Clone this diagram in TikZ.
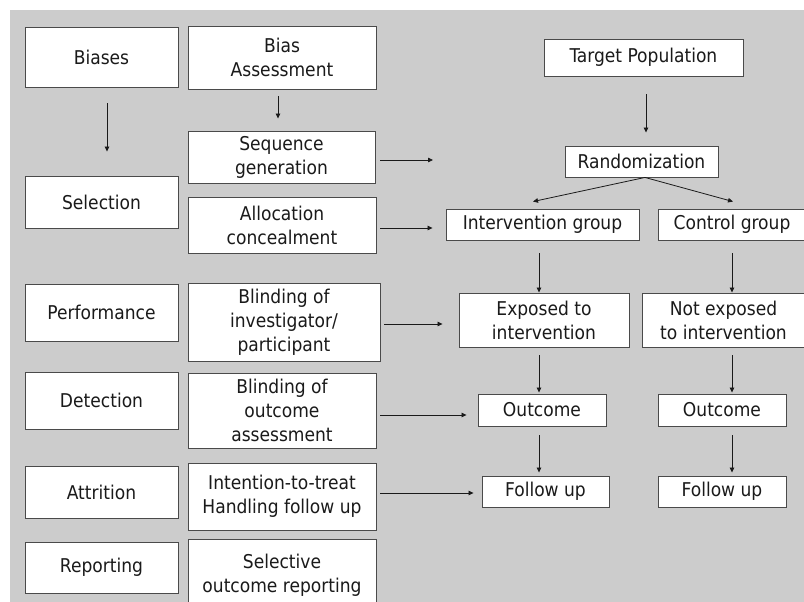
\documentclass[tikz,border=0pt]{standalone}
\usepackage{fontspec}
\setmainfont{DejaVu Sans Condensed}
\usetikzlibrary{arrows.meta}
\definecolor{bggray}{HTML}{CCCCCC}
\definecolor{edge}{HTML}{4A4A4A}
\definecolor{ink}{HTML}{1A1A1A}
\tikzset{
  box/.style={draw=edge, line width=0.9pt, fill=white, inner sep=0pt, align=center,
    text=ink, font=\fontsize{19}{24}\selectfont},
  arr/.style={draw=ink, line width=0.8pt, -{Triangle[length=5pt,width=4.5pt]}}
}
\begin{document}
\begin{tikzpicture}[x=1pt,y=-1pt]
\useasboundingbox (0,0) rectangle (804,602);
\clip (0,0) rectangle (804,602);
\fill[white] (0,0) rectangle (804,602);
\fill[bggray] (10,10) rectangle (804,602);

% left column
\node[box, minimum width=153pt, minimum height=60pt] (biases) at (101.5,57) {Biases};
\node[box, minimum width=153pt, minimum height=52pt] (selection) at (101.5,202) {Selection};
\node[box, minimum width=153pt, minimum height=57pt] (perf) at (101.5,312.5) {Performance};
\node[box, minimum width=153pt, minimum height=57pt] (detect) at (101.5,400.5) {Detection};
\node[box, minimum width=153pt, minimum height=52pt] (attr) at (101.5,492) {Attrition};
\node[box, minimum width=153pt, minimum height=51pt] (report) at (101.5,567.5) {Reporting};

% middle column
\node[box, minimum width=188pt, minimum height=63pt] (bassess) at (282,57.5) {Bias\\Assessment};
\node[box, minimum width=187pt, minimum height=52pt] (seqgen) at (281.5,157) {Sequence\\generation};
\node[box, minimum width=188pt, minimum height=56pt] (alloc) at (282,225) {Allocation\\concealment};
\node[box, minimum width=192pt, minimum height=78pt] (blindinv) at (284,322) {Blinding of\\investigator/\\participant};
\node[box, minimum width=188pt, minimum height=75pt] (blindout) at (282,410.5) {Blinding of\\outcome\\assessment};
\node[box, minimum width=188pt, minimum height=67pt] (itt) at (282,496.5) {Intention-to-treat\\Handling follow up};
\node[box, minimum width=188pt, minimum height=72pt] (selective) at (282,575) {Selective\\outcome reporting};

% right part
\node[box, minimum width=199pt, minimum height=37pt] (target) at (643.5,57.5) {Target Population};
\node[box, minimum width=153pt, minimum height=31pt] (random) at (641.5,161.5) {Randomization};
\node[box, minimum width=193pt, minimum height=31pt] (intgrp) at (542.5,224.5) {Intervention group};
\node[box, minimum width=148pt, minimum height=31pt] (ctrl) at (732,224.5) {Control group};
\node[box, minimum width=170pt, minimum height=54pt] (exposed) at (544,320) {Exposed to\\intervention};
\node[box, minimum width=163pt, minimum height=54pt] (notexp) at (723.5,320) {Not exposed\\to intervention};
\node[box, minimum width=128pt, minimum height=32pt] (out1) at (542,410) {Outcome};
\node[box, minimum width=128pt, minimum height=32pt] (out2) at (722,410) {Outcome};
\node[box, minimum width=127pt, minimum height=31pt] (fu1) at (545.5,491.5) {Follow up};
\node[box, minimum width=128pt, minimum height=31pt] (fu2) at (722,491.5) {Follow up};

\coordinate (seqend) at (433,160);

% arrows
\draw[arr] ([xshift=5.5pt,yshift=-16pt]biases.south) -- ([xshift=5.5pt,yshift=24pt]selection.north);
\draw[arr] ([xshift=-4pt,yshift=-7pt]bassess.south) -- ([xshift=-3.5pt,yshift=12pt]seqgen.north);
\draw[arr] ([xshift=5pt,yshift=-3pt]seqgen.east) -- (seqend);
\draw[arr] ([xshift=4pt,yshift=-3pt]alloc.east) -- ([xshift=-13pt,yshift=-3.5pt]intgrp.west);
\draw[arr] ([xshift=2.5pt,yshift=-18pt]target.south) -- ([xshift=4.5pt,yshift=13pt]random.north);
\draw[arr] ([xshift=3.5pt]random.south) -- ([xshift=-9.5pt,yshift=7pt]intgrp.north);
\draw[arr] ([xshift=3.5pt]random.south) -- ([xshift=1pt,yshift=7pt]ctrl.north);
\draw[arr] ([xshift=-3.5pt,yshift=-13pt]intgrp.south) -- ([xshift=-5pt]exposed.north);
\draw[arr] ([yshift=-13pt]ctrl.south) -- ([xshift=8.5pt]notexp.north);
\draw[arr] ([xshift=4pt,yshift=-2pt]blindinv.east) -- ([xshift=-16pt,yshift=-4pt]exposed.west);
\draw[arr] ([xshift=-5pt,yshift=-8pt]exposed.south) -- ([xshift=-3pt,yshift=1pt]out1.north);
\draw[arr] ([xshift=8.5pt,yshift=-8pt]notexp.south) -- ([xshift=10pt,yshift=1pt]out2.north);
\draw[arr] ([xshift=4pt,yshift=-4.5pt]blindout.east) -- ([xshift=-11pt,yshift=-5pt]out1.west);
\draw[arr] ([xshift=-3pt,yshift=-9pt]out1.south) -- ([xshift=-6.5pt,yshift=3pt]fu1.north);
\draw[arr] ([xshift=10pt,yshift=-9pt]out2.south) -- ([xshift=10pt,yshift=3pt]fu2.north);
\draw[arr] ([xshift=4pt,yshift=3.5pt]itt.east) -- ([xshift=-8pt,yshift=-1.5pt]fu1.west);
\end{tikzpicture}
\end{document}
